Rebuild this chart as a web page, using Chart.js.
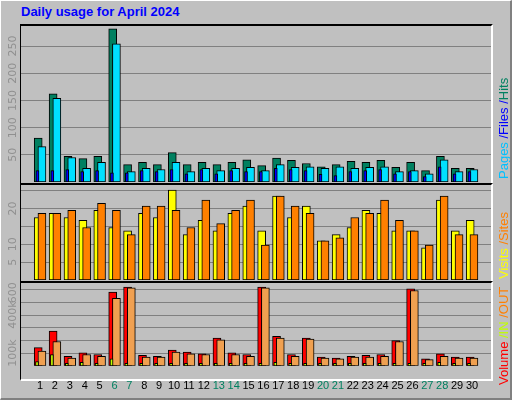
<!DOCTYPE html>
<html>
<head>
<meta charset="utf-8">
<script src="https://cdn.jsdelivr.net/npm/chart.js@4"></script>
<style>
  body { margin: 0; background: #fff; }
  #wrap { position: relative; width: 509px; height: 397px; background: #c0c0c0;
          border-top: 1px solid #fff; border-left: 1px solid #fff;
          border-right: 2px solid #808080; border-bottom: 2px solid #808080; overflow: hidden; }
  #title { position: absolute; left: 20px; top: 3px; font: bold 13px "Liberation Sans", Arial, sans-serif; color: #0000ff; }
  canvas { position: absolute; left: 0; }
  .box { position: absolute; left: 19px; width: 470px; border-top: 2px solid #000; border-left: 1px solid #000;
         border-right: 2px solid #fff; border-bottom: 2px solid #fff; box-sizing: content-box; }
  .side { position: absolute; left: 495px; transform: rotate(-90deg); transform-origin: 0 0;
          font: 13px "Liberation Sans", Arial, sans-serif; white-space: nowrap; }
</style>
</head>
<body>
<div id="wrap">
  <div id="title">Daily usage for April 2024</div>
  <div class="box" style="top:23px;height:157px"></div>
  <div class="box" style="top:182px;height:96px"></div>
  <div class="box" style="top:280px;height:96px"></div>
  <canvas id="c1"></canvas>
  <canvas id="c2"></canvas>
  <canvas id="c3"></canvas>
  <div class="side" style="top:178px"><span style="color:#00c0ff">Pages</span><span style="color:#0000ff"> /Files /</span><span style="color:#008060">Hits_</span></div>
  <div class="side" style="top:278px"><span style="color:#ffff00">Visits</span><span style="color:#ff8000"> /Sites</span></div>
  <div class="side" style="top:384px"><span style="color:#ff0000">Volume</span><span style="color:#c0ff00"> /IN</span><span style="color:#ff8000"> /OUT</span></div>
</div>
<script>
const days = Array.from({ length: 30 }, (_, i) => i + 1);
const weekends = [6, 7, 13, 14, 20, 21, 27, 28];

const hits  = [81,162,47,43,47,282,32,36,32,54,32,36,32,36,41,30,44,40,34,28,32,38,36,40,27,36,21,47,25,25];
const pages = [65,154,45,25,36,254,19,25,23,36,19,25,21,25,27,21,32,27,28,25,28,25,27,28,19,21,15,41,19,23];
const files = [21,21,23,19,21,17,17,21,19,23,15,23,15,21,19,19,25,23,21,14,12,19,21,23,15,19,10,28,15,19];

const visits = [17.5,18.7,17.5,16.7,19.5,14.7,13.8,18.7,17.5,25.2,12.7,16.7,13.8,18.7,20.7,13.8,23.5,17.5,20.7,11,12.7,14.7,19.5,18.7,13.8,13.8,9,22.4,13.8,16.7];
const sites  = [18.7,18.7,19.5,14.7,21.5,19.5,12.7,20.7,20.7,19.5,14.7,22.4,15.8,19.5,22.4,9.8,23.5,20.7,18.7,11,11.8,17.5,18.7,22.4,16.7,13.8,9.8,23.5,12.7,12.7];

const volume = [143,273,75,102,89,580,620,82,75,123,109,95,218,102,89,620,232,89,218,68,61,75,82,89,198,607,55,95,68,68];
const volOut = [116,191,61,89,75,532,614,68,68,109,95,89,205,89,75,614,218,75,211,61,55,68,68,75,191,593,48,75,61,61];
const volIn  = [34,89,20,27,20,55,20,20,20,20,20,20,20,20,20,20,27,20,20,20,20,20,20,20,20,20,20,27,20,20];

const topTicks = [50, 100, 150, 200, 250];
const midTicks = [5, 10, 20];
const botTicks = [100, 400, 600];

function bars(label, vals, color, shift, width, order) {
  return {
    label, order, data: days.map((d, i) => ({ x: d + shift, y: vals[i] })),
    backgroundColor: color, borderColor: '#000', borderWidth: 1,
    barThickness: width, grouped: false, borderSkipped: false
  };
}

const yLabels = {
  id: 'yLabels',
  afterDraw(chart, args, opts) {
    const ctx = chart.ctx, y = chart.scales.y;
    ctx.save();
    ctx.fillStyle = '#909090';
    ctx.font = '11px "DejaVu Sans", sans-serif';
    ctx.textAlign = 'center';
    ctx.textBaseline = 'middle';
    opts.ticks.forEach(v => {
      ctx.save();
      ctx.translate(12, y.getPixelForValue(v));
      ctx.rotate(-Math.PI / 2);
      ctx.fillText(opts.fmt ? opts.fmt(v) : String(v), 0, 0);
      ctx.restore();
    });
    ctx.restore();
  }
};

function make(id, top, height, datasets, ymax, step, ticks, fmt, showX) {
  const cv = document.getElementById(id);
  cv.width = 512; cv.height = height;
  cv.style.width = '512px'; cv.style.height = height + 'px';
  cv.style.top = top + 'px';
  new Chart(cv, {
    type: 'bar',
    data: { datasets },
    options: {
      responsive: false, animation: false,
      layout: { padding: { left: 20, right: 22, top: 0, bottom: 0 } },
      plugins: { legend: { display: false }, tooltip: { enabled: false }, yLabels: { ticks, fmt } },
      scales: {
        x: {
          type: 'linear', min: 0.25, max: 30.75, display: showX,
          grid: { display: false }, border: { display: false },
          afterBuildTicks: s => { s.ticks = days.map(d => ({ value: d })); },
          ticks: {
            autoSkip: false, maxRotation: 0, padding: 6,
            font: { size: 11, family: '"Liberation Sans", Arial, sans-serif' },
            color: c => weekends.includes(c.tick.value) ? '#008060' : '#000'
          }
        },
        y: {
          min: 0, max: ymax,
          afterBuildTicks: s => {
            s.ticks = [];
            for (let v = step; v < ymax; v += step) s.ticks.push({ value: v });
          },
          ticks: { display: false }, border: { display: false },
          grid: { color: '#808080', lineWidth: 1, drawTicks: false }
        }
      }
    },
    plugins: [yLabels]
  });
}

make('c1', 25, 156, [
  bars('Hits', hits, '#008060', -0.12, 8, 3),
  bars('Pages', pages, '#00e0ff', 0.13, 8, 2),
  bars('Files', files, '#0000ff', -0.17, 3, 1)
], 287, 50, topTicks, null, false);

make('c2', 184, 95, [
  bars('Visits', visits, '#ffff00', -0.12, 8, 3),
  bars('Sites', sites, '#ff8000', 0.13, 8, 2)
], 26.6, 5, midTicks, null, false);

make('c3', 282, 116, [
  bars('Volume', volume, '#ff0000', -0.12, 8, 3),
  bars('OUT', volOut, '#f0a050', 0.13, 8, 2),
  bars('IN', volIn, '#c0ff00', -0.2, 3, 1)
], 652, 100, botTicks, v => v + 'k', true);
</script>
</body>
</html>
